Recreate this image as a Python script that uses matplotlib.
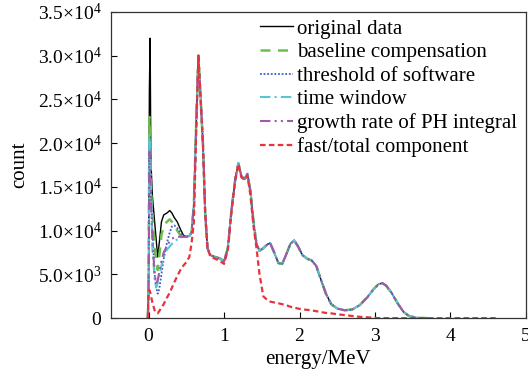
import numpy as np
import matplotlib
matplotlib.use("Agg")
import matplotlib.pyplot as plt
from matplotlib.ticker import FixedLocator, FixedFormatter

plt.rcParams['font.family'] = ['Liberation Serif', 'DejaVu Serif']
plt.rcParams['mathtext.fontset'] = 'custom'
plt.rcParams['mathtext.rm'] = 'Liberation Serif'
plt.rcParams['mathtext.it'] = 'Liberation Serif:italic'

# %% data
# low energy part (different for each method)
e_low = [-0.01, 0.0, 0.01, 0.02, 0.03, 0.05, 0.08, 0.10, 0.12, 0.14, 0.17,
         0.20, 0.24, 0.28, 0.31, 0.34, 0.38, 0.42, 0.46, 0.50, 0.54]
orig_low = [0, 5000, 26000, 32000, 18000, 14000, 11000, 9000, 7000, 8500, 11000,
            11800, 12000, 12300, 12000, 11500, 11000, 10200, 9500, 9300, 9400]
base_low = [0, 4000, 23000, 20000, 15000, 12000, 8500, 6500, 5500, 7000, 9500,
            10500, 11000, 11300, 11000, 10600, 10000, 9500, 9200, 9300, 9400]
thr_low = [0, 3500, 20000, 18000, 14000, 10000, 5000, 3500, 2800, 3300, 5000,
           6800, 8500, 9800, 10500, 10600, 10300, 9800, 9300, 9300, 9400]
win_low = [0, 3200, 21000, 19000, 16000, 8000, 4500, 3500, 4000, 4800, 6000,
           7000, 7800, 8200, 8500, 8800, 9000, 9200, 9300, 9300, 9400]
ph_low = [0, 3000, 19000, 17000, 14000, 9000, 5000, 4000, 4300, 5200, 6500,
          7500, 8200, 8800, 9100, 9200, 9300, 9300, 9300, 9300, 9400]
fast_low = [0, 3000, 3200, 3000, 2600, 1800, 900, 600, 550, 800, 1200,
            1600, 2300, 2900, 3500, 4100, 4800, 5500, 6000, 6400, 7000]

# high energy part
e_high = [0.57, 0.60, 0.63, 0.66, 0.69, 0.72, 0.75, 0.78, 0.82, 0.88, 0.95,
          1.00, 1.05, 1.10, 1.15, 1.19, 1.23, 1.27, 1.31, 1.35, 1.39, 1.43,
          1.47, 1.52, 1.57, 1.61, 1.66, 1.72, 1.77, 1.82, 1.88, 1.93, 1.98,
          2.04, 2.10, 2.16, 2.22, 2.28, 2.35, 2.42, 2.50, 2.60, 2.70, 2.80,
          2.90, 2.98, 3.05, 3.10, 3.15, 3.22, 3.30, 3.38, 3.45, 3.55, 3.70]
common_high = [9800, 13000, 22000, 30000, 25000, 20000, 12000, 8000, 7200, 7000, 6800,
               6500, 8000, 12500, 16000, 17700, 16200, 15900, 16500, 14500, 11000, 8500,
               7700, 8000, 8400, 8600, 7600, 6300, 6200, 7200, 8500, 8900, 8200,
               7200, 6800, 6600, 6000, 4500, 2800, 1600, 1100, 900, 1000, 1500,
               2400, 3300, 3900, 4000, 3700, 2900, 1700, 700, 250, 50, 0]
fast_high = [8600, 11000, 21000, 30000, 25000, 20000, 12000, 8000, 7000, 6800, 6500,
             6200, 7800, 12300, 15800, 17600, 16100, 15800, 16300, 14000, 10500, 8000,
             5000, 2500, 2100, 1900, 1800, 1700, 1600, 1500, 1300, 1200, 1100,
             1000, 950, 900, 800, 700, 600, 550, 450, 350, 250, 150,
             100, 50, 0, 0, 0, 0, 0, 0, 0, 0, 0]
e_fast_end = [4.0, 4.3, 4.6]
fast_end = [0, 0, 0]

labels = ["original data", "baseline compensation", "threshold of software",
          "time window", "growth rate of PH integral", "fast/total component"]
yticks = [0, 5000, 10000, 15000, 20000, 25000, 30000, 35000]
ytick_labels = ["0", "5.0×10$^3$", "1.0×10$^4$", "1.5×10$^4$",
                "2.0×10$^4$", "2.5×10$^4$", "3.0×10$^4$", "3.5×10$^4$"]

# %% plot
fig = plt.figure(figsize=(5.28, 3.73), dpi=100)
ax = fig.add_axes([0.210, 0.147, 0.786, 0.821])

e_all = e_low + e_high
ax.plot(e_all, orig_low + common_high, color='black', lw=1.0, label=labels[0])
ax.plot(e_all, base_low + common_high, color='#6cbf4a', lw=1.8,
        linestyle=(0, (4, 3)), label=labels[1])
ax.plot(e_all, thr_low + common_high, color='#3b5fc4', lw=1.3,
        linestyle=(0, (1, 1)), label=labels[2])
ax.plot(e_all, win_low + common_high, color='#5cc3d0', lw=1.5,
        linestyle=(0, (5, 2, 1, 2)), label=labels[3])
ax.plot(e_all, ph_low + common_high, color='#a05aa8', lw=1.5,
        linestyle=(0, (5, 2, 1, 2, 1, 2)), label=labels[4])
ax.plot(e_all + e_fast_end, fast_low + fast_high + fast_end, color='#e8333a', lw=1.6,
        linestyle=(0, (2.5, 1.5)), label=labels[5])

ax.set_xlim(-0.5, 5)
ax.set_ylim(0, 35000)
ax.set_xticks([0, 1, 2, 3, 4, 5])
ax.yaxis.set_major_locator(FixedLocator(yticks))
ax.yaxis.set_major_formatter(FixedFormatter(ytick_labels))
ax.tick_params(direction='in', length=4, labelsize=14, width=0.8, pad=7)
for s in ax.spines.values():
    s.set_linewidth(0.9)
    s.set_color('#333333')

ax.set_xlabel("energy/MeV", fontsize=15, labelpad=4)
ax.set_ylabel("count", fontsize=15, labelpad=6)

ax.legend(loc='upper left', bbox_to_anchor=(0.350, 0.99), frameon=False,
          fontsize=15, handlelength=1.55, handletextpad=0.22,
          labelspacing=0.19, borderpad=0.2, borderaxespad=0)

fig.savefig("out.png", dpi=100)
